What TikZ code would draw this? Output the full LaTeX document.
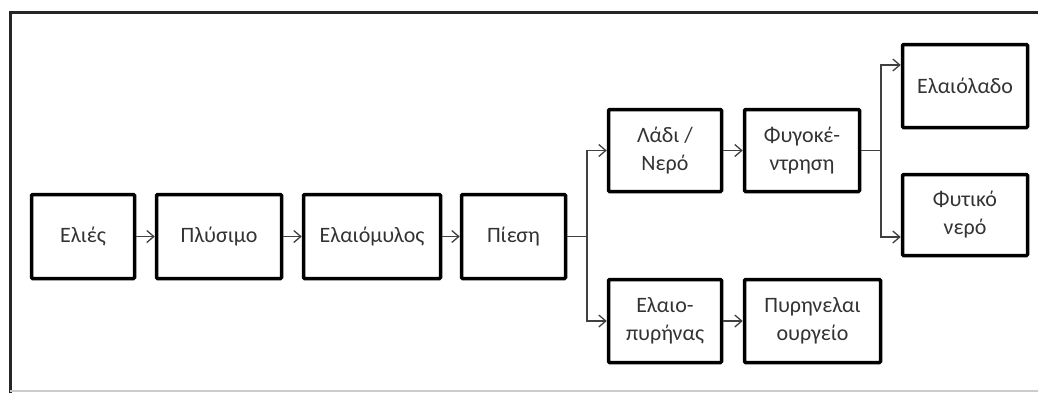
\documentclass[tikz,border=0pt]{standalone}
\usepackage{fontspec}
\setmainfont{Carlito}
\usetikzlibrary{arrows.meta}
\begin{document}
\begin{tikzpicture}[x=1pt,y=-1pt,
  box/.style={draw=black, line width=3.5pt, rounded corners=1pt, align=center,
    text=black!80, font=\fontsize{22}{28}\selectfont, inner sep=0pt},
  conn/.style={draw=black!75, line width=1.3pt},
  arr/.style={conn, -{Straight Barb[length=7pt,width=12pt]}}]
\useasboundingbox (0,0) rectangle (1038,392);
\draw[black!85, line width=3pt] (10,394) -- (10,12) -- (1040,12);
\draw[black!20, line width=1.5pt] (10,391) -- (1040,391);
% main row
\node[box, minimum width=103pt, minimum height=84pt] (elies) at (83,236.5) {Ελιές};
\node[box, minimum width=125pt, minimum height=84pt] (plysimo) at (219,236.5) {Πλύσιμο};
\node[box, minimum width=137pt, minimum height=84pt] (mylos) at (372,236.5) {Ελαιόμυλος};
\node[box, minimum width=104pt, minimum height=84pt] (piesi) at (513.5,236.5) {Πίεση};
% branches
\node[box, minimum width=113pt, minimum height=82pt] (ladi) at (665,150.5) {Λάδι /\\Νερό};
\node[box, minimum width=115pt, minimum height=82pt] (fyg) at (802,150.5) {Φυγοκέ-\\ντρηση};
\node[box, minimum width=125pt, minimum height=83pt] (elaiolado) at (965,86) {Ελαιόλαδο};
\node[box, minimum width=125pt, minimum height=81pt] (fytiko) at (965,215) {Φυτικό\\νερό};
\node[box, minimum width=113pt, minimum height=83pt] (pyrinas) at (665,321) {Ελαιο-\\πυρήνας};
\node[box, minimum width=136pt, minimum height=83pt] (pyrin) at (812.5,321) {Πυρηνελαι\\ουργείο};
% connectors
\draw[arr] (elies) -- (plysimo);
\draw[arr] (plysimo) -- (mylos);
\draw[arr] (mylos) -- (piesi);
\coordinate (j1) at (587,236.5);
\draw[conn] (piesi.east) -- (j1);
\draw[arr] (j1) |- (ladi.west);
\draw[arr] (j1) |- (pyrinas.west);
\draw[arr] (ladi) -- (fyg);
\draw[arr] (pyrinas) -- (pyrin);
\coordinate (j2) at (881,150.5);
\draw[conn] (fyg.east) -- (j2);
\draw[arr] (j2) |- ([yshift=21pt]elaiolado.west);
\draw[arr] (j2) |- ([yshift=-22pt]fytiko.west);
\end{tikzpicture}
\end{document}
